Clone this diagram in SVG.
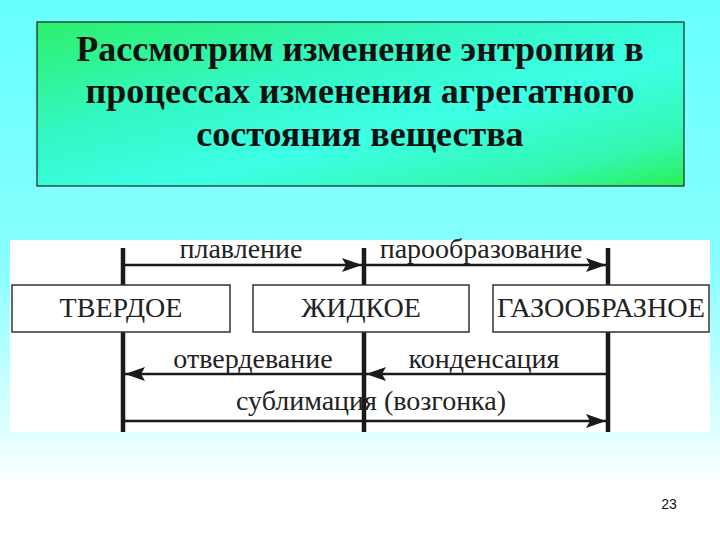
<svg xmlns="http://www.w3.org/2000/svg" width="720" height="540" viewBox="0 0 720 540">
<defs>
<linearGradient id="bg" x1="0" y1="0" x2="0" y2="1">
<stop offset="0" stop-color="#66ffff"/>
<stop offset="0.5" stop-color="#8affff"/>
<stop offset="0.9" stop-color="#ffffff"/>
<stop offset="1" stop-color="#ffffff"/>
</linearGradient>
<linearGradient id="tb" x1="0" y1="0" x2="1" y2="1">
<stop offset="0" stop-color="#2cf06a"/>
<stop offset="0.35" stop-color="#33f8c4"/>
<stop offset="0.6" stop-color="#3cffe6"/>
<stop offset="0.85" stop-color="#33f8b0"/>
<stop offset="1" stop-color="#2cf055"/>
</linearGradient>
<marker id="ah" viewBox="0 0 20 14" refX="20" refY="7" markerWidth="20" markerHeight="14" markerUnits="userSpaceOnUse" orient="auto">
<path d="M0,0 L20,7 L0,14 L4,7 Z" fill="#1a1a1a"/>
</marker>
<style>
.title{font-family:"Liberation Serif","Times New Roman",serif;font-weight:bold;font-size:36px;fill:#111;text-anchor:middle}
.lbl{font-family:"Liberation Serif","Times New Roman",serif;font-size:28px;fill:#222;text-anchor:middle}
.box{fill:#fff;stroke:#333;stroke-width:1.5}
.bt{font-family:"Liberation Serif","Times New Roman",serif;font-size:28px;fill:#222;text-anchor:middle}
.vl{stroke:#1a1a1a;stroke-width:4.5}
.ar{stroke:#1a1a1a;stroke-width:2.5;fill:none;marker-end:url(#ah)}
</style>
</defs>
<rect x="0" y="0" width="720" height="540" fill="url(#bg)"/>
<g id="title">
<rect x="37" y="22" width="647" height="164" fill="url(#tb)" stroke="#222" stroke-width="1.2"/>
<text class="title" x="360" y="61">Рассмотрим изменение энтропии в</text>
<text class="title" x="360" y="103">процессах изменения агрегатного</text>
<text class="title" x="360" y="146">состояния вещества</text>
</g>
<rect id="panel" x="10" y="240" width="700" height="192" fill="#ffffff"/>
<g id="connectors">
<line class="vl" x1="123" y1="248" x2="123" y2="432"/>
<line class="vl" x1="364" y1="248" x2="364" y2="432"/>
<line class="vl" x1="608" y1="248" x2="608" y2="432"/>
<line class="ar" x1="123" y1="265" x2="362" y2="265"/>
<line class="ar" x1="364" y1="265" x2="606" y2="265"/>
<line class="ar" x1="364" y1="374" x2="125" y2="374"/>
<line class="ar" x1="608" y1="374" x2="366" y2="374"/>
<line class="ar" x1="123" y1="421" x2="606" y2="421"/>
<text class="lbl" x="241" y="258">плавление</text>
<text class="lbl" x="481" y="258">парообразование</text>
<text class="lbl" x="253" y="368">отвердевание</text>
<text class="lbl" x="484" y="368">конденсация</text>
<text class="lbl" x="371" y="410">сублимация (возгонка)</text>
</g>
<g id="solid">
<rect class="box" x="12" y="285" width="218" height="47"/>
<text class="bt" x="121" y="317">ТВЕРДОЕ</text>
</g>
<g id="liquid">
<rect class="box" x="253" y="285" width="216" height="47"/>
<text class="bt" x="361" y="317">ЖИДКОЕ</text>
</g>
<g id="gas">
<rect class="box" x="493" y="285" width="216" height="47"/>
<text class="bt" x="601" y="317" textLength="208" lengthAdjust="spacingAndGlyphs">ГАЗООБРАЗНОЕ</text>
</g>
<text x="669" y="509" font-family="Liberation Sans, Arial, sans-serif" font-size="14" fill="#111" text-anchor="middle">23</text>
</svg>
